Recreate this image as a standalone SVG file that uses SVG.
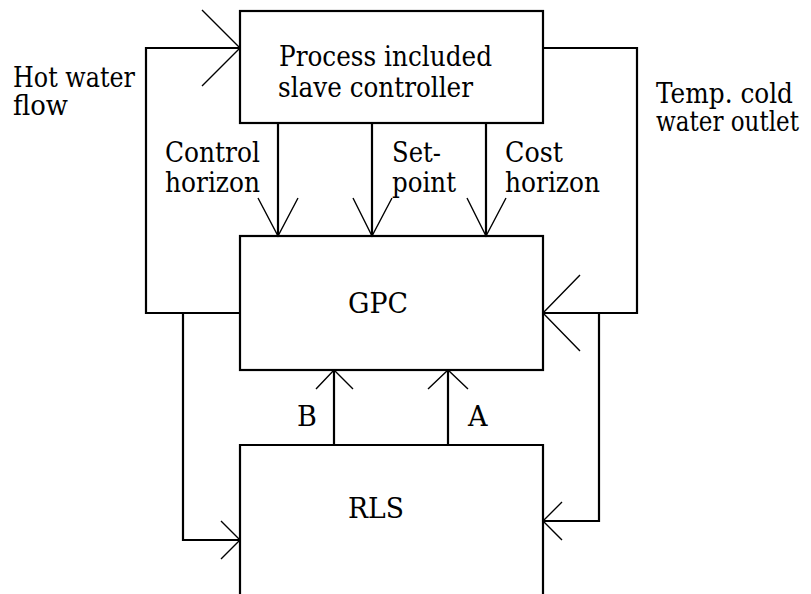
<svg xmlns="http://www.w3.org/2000/svg" width="811" height="594" viewBox="0 0 811 594">
  <style>
    .box { fill: none; stroke: #000; stroke-width: 2.2; }
    .wire { fill: none; stroke: #000; stroke-width: 2.2; }
    .head { fill: none; stroke: #000; stroke-width: 1.4; }
    .t { font-family: 'DejaVu Serif', 'Liberation Serif', serif; font-size: 27px; fill: #000; }
  </style>
  <rect width="811" height="594" fill="#fff"/>

  <!-- blocks -->
  <g id="slave-controller">
    <rect class="box" x="240" y="11" width="303" height="112"/>
    <text class="t" x="279" y="66" textLength="213" lengthAdjust="spacingAndGlyphs">Process included</text>
    <text class="t" x="278" y="97" textLength="195" lengthAdjust="spacingAndGlyphs">slave controller</text>
  </g>
  <g id="gpc">
    <rect class="box" x="240" y="236" width="303" height="134"/>
    <text class="t" x="348" y="313" textLength="60" lengthAdjust="spacingAndGlyphs">GPC</text>
  </g>
  <g id="rls">
    <path class="box" d="M240,600 V445 H543 V600"/>
    <text class="t" x="348" y="518" textLength="56" lengthAdjust="spacingAndGlyphs">RLS</text>
  </g>

  <!-- signal lines and arrowheads -->
  <g id="connectors">
    <!-- hot water flow loop -->
    <path class="wire" d="M240,313 H146 V48 H240"/>
    <path class="head" d="M202,10 L240,48 L202,86"/>
    <path class="wire" d="M183,313 V540 H240"/>
    <path class="head" d="M221,521 L240,540 L221,559"/>

    <!-- cold water outlet loop -->
    <path class="wire" d="M543,48 H637 V313 H543"/>
    <path class="head" d="M580,275 L543,313 L580,351"/>
    <path class="wire" d="M599,313 V521 H543"/>
    <path class="head" d="M562,502 L543,521 L562,540"/>

    <!-- horizons and set-point -->
    <path class="wire" d="M278,123 V236 M372,123 V236 M486,123 V236"/>
    <path class="head" d="M258,198 L278,236 L298,198"/>
    <path class="head" d="M353,198 L372,236 L392,198"/>
    <path class="head" d="M467,198 L486,236 L506,198"/>

    <!-- parameter estimates B and A -->
    <path class="wire" d="M334,445 V370 M448,445 V370"/>
    <path class="head" d="M316,389 L334,370 L353,389"/>
    <path class="head" d="M428,389 L448,370 L468,389"/>
  </g>

  <!-- signal labels -->
  <g id="labels">
    <text class="t" x="13" y="87" textLength="122" lengthAdjust="spacingAndGlyphs">Hot water</text>
    <text class="t" x="13" y="115" textLength="55" lengthAdjust="spacingAndGlyphs">flow</text>
    <text class="t" x="656" y="103" textLength="137" lengthAdjust="spacingAndGlyphs">Temp. cold</text>
    <text class="t" x="656" y="131" textLength="143" lengthAdjust="spacingAndGlyphs">water outlet</text>
    <text class="t" x="165" y="162" textLength="95" lengthAdjust="spacingAndGlyphs">Control</text>
    <text class="t" x="165" y="192" textLength="95" lengthAdjust="spacingAndGlyphs">horizon</text>
    <text class="t" x="392" y="162" textLength="49" lengthAdjust="spacingAndGlyphs">Set-</text>
    <text class="t" x="392" y="192" textLength="64" lengthAdjust="spacingAndGlyphs">point</text>
    <text class="t" x="505" y="162" textLength="58" lengthAdjust="spacingAndGlyphs">Cost</text>
    <text class="t" x="505" y="192" textLength="95" lengthAdjust="spacingAndGlyphs">horizon</text>
    <text class="t" x="297" y="426">B</text>
    <text class="t" x="468" y="426">A</text>
  </g>
</svg>
